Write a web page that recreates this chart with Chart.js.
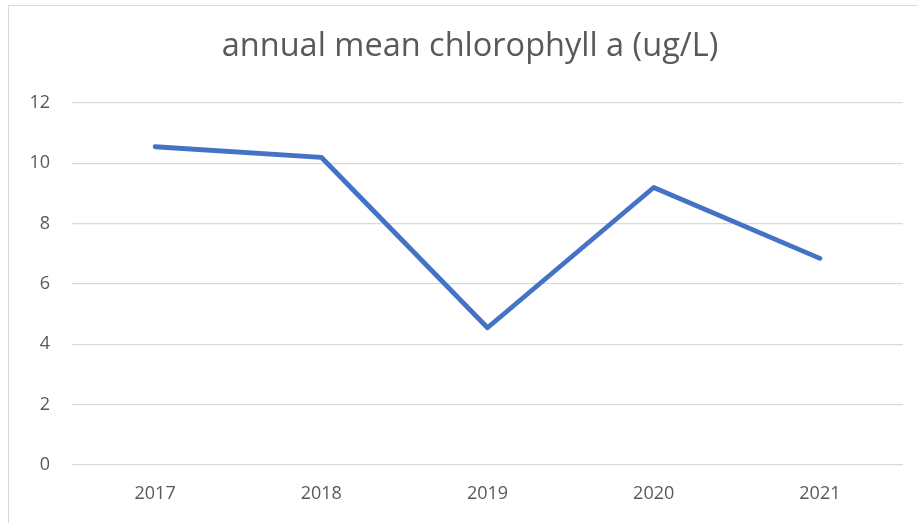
<!DOCTYPE html>
<html>
<head>
<meta charset="utf-8">
<script src="https://cdn.jsdelivr.net/npm/chart.js@4/dist/chart.umd.min.js"></script>
<style>
  html, body { margin: 0; padding: 0; background: #fff; overflow: hidden; }
  #moldura { position: absolute; left: 8px; top: 5px; width: 940px; height: 560px; border: 1px solid #d9d9d9; }
  #caixa { position: absolute; left: 0; top: 0; width: 940px; height: 523px; }
</style>
</head>
<body>
<div id="moldura"></div>
<div id="caixa"><canvas id="grafico"></canvas></div>
<script>
const anos = ['2017', '2018', '2019', '2020', '2021']
const clorofila = [10.55, 10.2, 4.55, 9.2, 6.85]
const marcasY = [0, 2, 4, 6, 8, 10, 12]

const cinza = '#595959'

new Chart(document.getElementById('grafico'), {
  type: 'line',
  data: {
    labels: anos,
    datasets: [{
      label: 'annual mean chlorophyll a (ug/L)',
      data: clorofila,
      borderColor: '#4472C4',
      backgroundColor: '#4472C4',
      borderWidth: 4.8,
      borderCapStyle: 'round',
      borderJoinStyle: 'round',
      pointRadius: 0,
      tension: 0
    }]
  },
  options: {
    responsive: true,
    maintainAspectRatio: false,
    animation: false,
    layout: { padding: 0 },
    plugins: {
      legend: { display: false },
      tooltip: { enabled: false },
      title: {
        display: true,
        text: 'annual mean chlorophyll a (ug/L)',
        color: cinza,
        font: { family: 'Open Sans', size: 32.5, weight: 'normal' },
        padding: { top: 27, bottom: 37 }
      }
    },
    scales: {
      x: {
        offset: true,
        grid: { display: false, drawTicks: false },
        border: { display: false },
        ticks: { color: cinza, font: { family: 'Open Sans', size: 18 }, padding: 18, maxRotation: 0 },
        afterFit: s => { s.height = 58 }
      },
      y: {
        min: 0,
        max: 12,
        afterBuildTicks: s => { s.ticks = marcasY.map(v => ({ value: v })) },
        grid: { color: '#d9d9d9', lineWidth: 1.3, drawTicks: false },
        border: { display: false },
        ticks: { color: cinza, font: { family: 'Open Sans', size: 18 }, padding: 22 },
        afterFit: s => { s.width = 72 }
      },
      // eixo vazio à direita, só reserva espaço para o título ficar centrado como no original
      folga: {
        position: 'right',
        min: 0,
        max: 12,
        grid: { display: false, drawTicks: false },
        border: { display: false },
        ticks: { display: false },
        afterFit: s => { s.width = 37 }
      }
    }
  }
})
</script>
</body>
</html>
